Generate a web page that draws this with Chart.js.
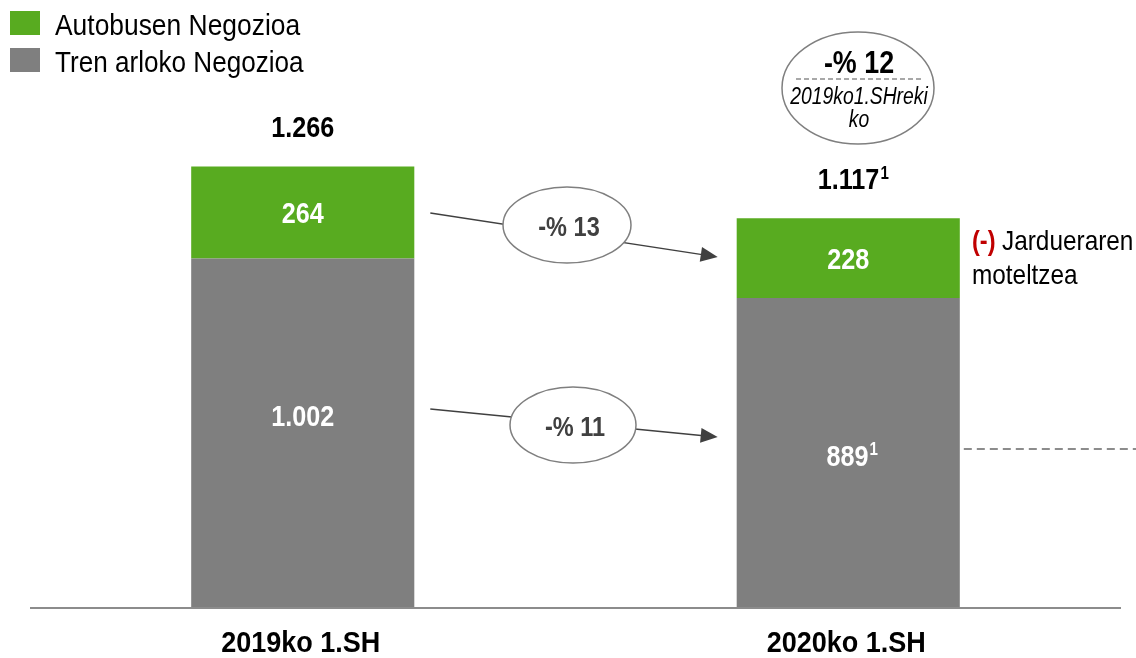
<!DOCTYPE html>
<html lang="eu">
<head>
  <meta charset="UTF-8">
  <title>Negozioak 2019-2020</title>
  <script src="https://cdn.jsdelivr.net/npm/chart.js"></script>
  <style>
    html, body { margin: 0; padding: 0; background: #fff; overflow: hidden; }
    canvas { display: block; }
  </style>
</head>
<body>
  <canvas id="chart" width="1136" height="658"></canvas>

  <script>
    // datuak
    const categories = ['2019ko 1.SH', '2020ko 1.SH'];
    const trenValues = [1002, 889];
    const busValues = [264, 228];
    const totals = [1266, 1117];
    const totalLabels = ['1.266', '1.117'];
    const trenLabels = ['1.002', '889'];
    const busLabels = ['264', '228'];
    const footnote = ['', '1'];
    const changeLabels = ['-% 13', '-% 11'];

    const GREEN = '#58ab20';
    const GREY = '#7f7f7f';
    const FONT = "'Liberation Sans', Arial, sans-serif";
    const SX = 0.84; // squeeze to look like a narrow face

    function txt(ctx, s, x, y, font, color, align, sx) {
      ctx.save();
      ctx.font = font;
      ctx.fillStyle = color;
      ctx.textAlign = align || 'center';
      ctx.textBaseline = 'alphabetic';
      ctx.translate(x, y);
      ctx.scale(sx || SX, 1);
      ctx.fillText(s, 0, 0);
      ctx.restore();
    }

    function width(ctx, s, font) {
      ctx.save();
      ctx.font = font;
      const w = ctx.measureText(s).width * SX;
      ctx.restore();
      return w;
    }

    // text with a small raised "1" after it, centred as a whole
    function supTxt(ctx, s, sup, x, y, size, color) {
      const f1 = 'bold ' + size + 'px ' + FONT;
      const f2 = 'bold ' + Math.round(size * 0.6) + 'px ' + FONT;
      const w1 = width(ctx, s, f1);
      const w2 = sup ? width(ctx, sup, f2) + 1 : 0;
      const left = x - (w1 + w2) / 2;
      txt(ctx, s, left, y, f1, color, 'left');
      if (sup) txt(ctx, sup, left + w1 + 1, y - size * 0.36, f2, color, 'left');
    }

    function arrow(ctx, x1, y1, x2, y2) {
      const a = Math.atan2(y2 - y1, x2 - x1);
      ctx.save();
      ctx.strokeStyle = '#404040';
      ctx.fillStyle = '#404040';
      ctx.lineWidth = 1.5;
      ctx.beginPath();
      ctx.moveTo(x1, y1);
      ctx.lineTo(x2 - 14 * Math.cos(a), y2 - 14 * Math.sin(a));
      ctx.stroke();
      ctx.translate(x2, y2);
      ctx.rotate(a);
      ctx.beginPath();
      ctx.moveTo(0, 0);
      ctx.lineTo(-17, -7.5);
      ctx.lineTo(-17, 7.5);
      ctx.closePath();
      ctx.fill();
      ctx.restore();
    }

    function oval(ctx, cx, cy, rx, ry) {
      ctx.save();
      ctx.beginPath();
      ctx.ellipse(cx, cy, rx, ry, 0, 0, Math.PI * 2);
      ctx.fillStyle = '#fff';
      ctx.fill();
      ctx.strokeStyle = '#7f7f7f';
      ctx.lineWidth = 1.5;
      ctx.stroke();
      ctx.restore();
    }

    const extras = {
      id: 'extras',
      afterDatasetsDraw(chart) {
        const ctx = chart.ctx;
        const area = chart.chartArea;
        const yS = chart.scales.y;
        const xS = chart.scales.x;
        const tren = chart.getDatasetMeta(0).data;
        const bus = chart.getDatasetMeta(1).data;
        const y0 = yS.getPixelForValue(0);

        // baseline
        ctx.save();
        ctx.strokeStyle = '#8c8c8c';
        ctx.lineWidth = 2;
        ctx.beginPath();
        ctx.moveTo(area.left, y0);
        ctx.lineTo(area.right, y0);
        ctx.stroke();
        ctx.restore();

        // legend
        ctx.fillStyle = GREEN;
        ctx.fillRect(10, 11, 30, 24);
        ctx.fillStyle = GREY;
        ctx.fillRect(10, 48, 30, 24);
        txt(ctx, 'Autobusen Negozioa', 55, 35, '30px ' + FONT, '#000', 'left', 0.88);
        txt(ctx, 'Tren arloko Negozioa', 55, 72, '30px ' + FONT, '#000', 'left', 0.87);

        // value labels
        const trenDy = [-18, 2];
        for (let i = 0; i < categories.length; i++) {
          const bx = xS.getPixelForValue(i);
          const b = bus[i], t = tren[i];
          supTxt(ctx, busLabels[i], '', bx, (b.y + b.base) / 2 + 11, 30, '#fff');
          supTxt(ctx, trenLabels[i], footnote[i], bx + (footnote[i] ? 4 : 0), (t.y + t.base) / 2 + 11 + trenDy[i], 30, '#fff');
          supTxt(ctx, totalLabels[i], footnote[i], bx + (footnote[i] ? 5 : 0), yS.getPixelForValue(totals[i]) - 29, 30, '#000');
          txt(ctx, categories[i], bx - 2, 652, 'bold 30px ' + FONT, '#000', 'center', 0.9);
        }

        // arrows with change ovals
        const x1 = tren[0].x + tren[0].width / 2 + 16;
        const x2 = tren[1].x - tren[1].width / 2 - 19;
        arrow(ctx, x1, 213, x2, 257);
        oval(ctx, 567, 225, 64, 38);
        txt(ctx, changeLabels[0], 569, 236, 'bold 28px ' + FONT, '#404040');
        arrow(ctx, x1, 409, x2, 437);
        oval(ctx, 573, 425, 63, 38);
        txt(ctx, changeLabels[1], 575, 436, 'bold 28px ' + FONT, '#404040');

        // total change oval
        oval(ctx, 858, 88, 76, 56);
        txt(ctx, '-% 12', 859, 73, 'bold 32px ' + FONT, '#000');
        ctx.save();
        ctx.strokeStyle = '#8c8c8c';
        ctx.lineWidth = 1.5;
        ctx.setLineDash([5, 3]);
        ctx.beginPath();
        ctx.moveTo(796, 79);
        ctx.lineTo(922, 79);
        ctx.stroke();
        ctx.restore();
        txt(ctx, '2019ko1.SHreki', 859, 104, 'italic 23px ' + FONT, '#000');
        txt(ctx, 'ko', 859, 127, 'italic 23px ' + FONT, '#000');

        // side note
        const wp = width(ctx, '(-) ', 'bold 28px ' + FONT);
        txt(ctx, '(-)', 972, 250, 'bold 28px ' + FONT, '#c00000', 'left');
        txt(ctx, 'Jardueraren', 972 + wp, 250, '28px ' + FONT, '#000', 'left', 0.87);
        txt(ctx, 'moteltzea', 972, 284, '28px ' + FONT, '#000', 'left', 0.87);

        // dashed guide
        ctx.save();
        ctx.strokeStyle = '#8c8c8c';
        ctx.lineWidth = 2;
        ctx.setLineDash([8, 5]);
        ctx.beginPath();
        ctx.moveTo(tren[1].x + tren[1].width / 2 + 4, 449);
        ctx.lineTo(1136, 449);
        ctx.stroke();
        ctx.restore();
      }
    };

    new Chart(document.getElementById('chart'), {
      type: 'bar',
      data: {
        labels: categories,
        datasets: [
          { label: 'Tren arloko Negozioa', data: trenValues, backgroundColor: GREY, borderWidth: 0 },
          { label: 'Autobusen Negozioa', data: busValues, backgroundColor: GREEN, borderWidth: 0 }
        ]
      },
      options: {
        responsive: false,
        devicePixelRatio: 1,
        animation: false,
        layout: { padding: { left: 30, right: 15, top: 15, bottom: 50 } },
        datasets: { bar: { barPercentage: 1, categoryPercentage: 0.409 } },
        plugins: { legend: { display: false }, tooltip: { enabled: false } },
        scales: {
          x: { stacked: true, display: false },
          y: { stacked: true, display: false, min: 0, max: 1700 }
        }
      },
      plugins: [extras]
    });
  </script>
</body>
</html>
